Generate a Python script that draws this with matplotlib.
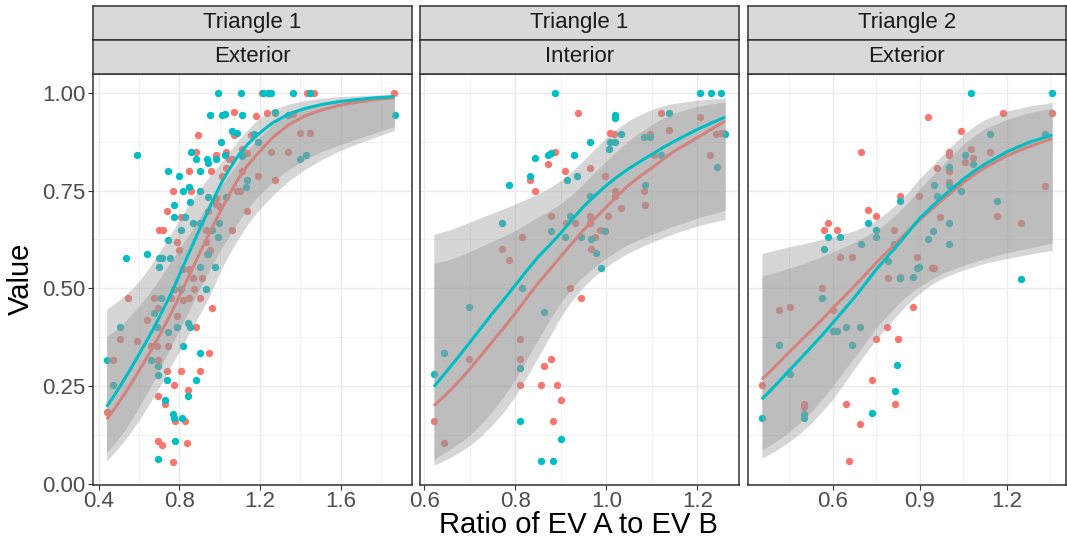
import matplotlib
matplotlib.use("Agg")
import matplotlib.pyplot as plt
from matplotlib.ticker import FixedLocator

plt.rcParams['font.family'] = ['Liberation Sans', 'DejaVu Sans']

TEAL = '#00BFC4'
SALMON = '#F8766D'

strip_top = ['Triangle 1', 'Triangle 1', 'Triangle 2']
strip_bottom = ['Exterior', 'Interior', 'Exterior']

# ---- panel 1: Triangle 1 / Exterior ----
p1_teal_x = [0.994, 1.104, 1.239, 1.257, 1.363, 1.449, 1.217, 0.951, 1.013, 1.029, 1.109, 1.276, 1.337, 1.870,
             1.059, 1.087, 1.168, 1.19, 1.007, 0.857, 1.026, 1.11, 1.40, 1.426, 0.591, 0.885, 0.939, 0.94, 0.98,
             0.743, 0.80, 0.90, 1.135, 1.13, 0.816, 0.846, 0.90, 0.94, 1.03, 0.854, 0.775, 0.775, 0.828, 0.995,
             0.87, 0.90, 0.807, 0.963, 0.99, 0.745, 0.94, 0.64, 0.535, 0.70, 0.715, 0.755, 0.70, 0.904, 0.975,
             0.93, 0.808, 0.71, 0.675, 0.505, 0.69, 0.745, 0.79, 0.845, 0.855, 0.82, 0.904, 0.44, 0.66, 0.695,
             0.695, 0.74, 0.885, 0.47, 0.843, 0.73, 0.77, 0.775, 0.815, 0.778, 0.695]
p1_teal_y = [1.0, 1.0, 1.0, 1.0, 1.0, 1.0, 1.0, 0.943, 0.943, 0.945, 0.943, 0.952, 0.943, 0.943,
             0.901, 0.897, 0.895, 0.873, 0.873, 0.848, 0.842, 0.838, 0.831, 0.840, 0.840, 0.831, 0.831, 0.821, 0.831,
             0.80, 0.787, 0.80, 0.776, 0.760, 0.749, 0.760, 0.749, 0.734, 0.734, 0.721, 0.713, 0.683, 0.683, 0.666,
             0.666, 0.666, 0.649, 0.649, 0.63, 0.624, 0.588, 0.588, 0.578, 0.578, 0.578, 0.578, 0.554, 0.554, 0.554,
             0.499, 0.499, 0.475, 0.437, 0.40, 0.40, 0.389, 0.40, 0.41, 0.40, 0.351, 0.334, 0.317, 0.317, 0.302,
             0.279, 0.265, 0.265, 0.252, 0.224, 0.213, 0.179, 0.169, 0.169, 0.108, 0.062]
p1_salmon_x = [1.211, 1.434, 1.470, 1.867, 1.072, 1.181, 1.235, 1.276, 1.363, 0.895, 1.07, 1.155, 1.40, 1.447,
               0.885, 0.980, 1.03, 1.11, 1.136, 1.255, 1.337, 1.046, 1.06, 0.85, 0.957, 1.014, 1.03, 1.11, 1.19,
               1.276, 0.77, 0.86, 0.98, 1.087, 1.10, 1.135, 0.74, 0.808, 0.983, 0.996, 0.94, 0.70, 0.718, 1.06,
               0.93, 0.79, 0.80, 0.93, 0.953, 0.935, 0.82, 0.85, 0.87, 0.91, 0.875, 0.775, 0.545, 0.675, 0.757,
               0.82, 0.85, 0.904, 0.96, 0.695, 0.79, 0.64, 0.885, 0.505, 0.59, 0.66, 0.69, 0.745, 0.945, 0.47,
               0.695, 0.74, 0.81, 0.904, 0.775, 0.845, 0.695, 0.73, 0.44, 0.778, 0.83, 0.692, 0.712, 0.84, 0.77]
p1_salmon_y = [1.0, 1.0, 1.0, 1.0, 0.952, 0.940, 0.948, 0.948, 0.945, 0.893, 0.893, 0.893, 0.897, 0.897,
               0.848, 0.840, 0.848, 0.855, 0.846, 0.848, 0.848, 0.831, 0.831, 0.80, 0.80, 0.787, 0.808, 0.80, 0.787,
               0.776, 0.749, 0.749, 0.732, 0.749, 0.749, 0.698, 0.698, 0.683, 0.715, 0.711, 0.698, 0.649, 0.649, 0.649,
               0.649, 0.618, 0.598, 0.618, 0.598, 0.588, 0.55, 0.55, 0.525, 0.525, 0.499, 0.499, 0.475, 0.475, 0.475,
               0.471, 0.475, 0.475, 0.45, 0.45, 0.429, 0.42, 0.40, 0.37, 0.364, 0.351, 0.351, 0.351, 0.334, 0.317,
               0.317, 0.288, 0.288, 0.288, 0.252, 0.239, 0.224, 0.203, 0.184, 0.161, 0.161, 0.108, 0.099, 0.103, 0.055]

p1_fit_x = [0.439, 0.48, 0.521, 0.562, 0.603, 0.644, 0.685, 0.726, 0.767, 0.808, 0.849, 0.89, 0.931, 0.972,
            1.013, 1.055, 1.096, 1.137, 1.178, 1.22, 1.26, 1.342, 1.424, 1.506, 1.588, 1.67, 1.77, 1.867]
p1_teal_fit = [0.197, 0.228, 0.262, 0.297, 0.334, 0.371, 0.41, 0.452, 0.495, 0.543, 0.592, 0.639, 0.685, 0.731,
               0.774, 0.81, 0.842, 0.867, 0.888, 0.906, 0.922, 0.946, 0.96, 0.97, 0.977, 0.982, 0.987, 0.99]
p1_teal_lo = [0.08, 0.104, 0.131, 0.163, 0.199, 0.236, 0.275, 0.317, 0.36, 0.402, 0.444, 0.487, 0.529, 0.568,
              0.605, 0.64, 0.673, 0.702, 0.728, 0.75, 0.77, 0.804, 0.829, 0.85, 0.866, 0.88, 0.897, 0.914]
p1_teal_hi = [0.446, 0.461, 0.478, 0.497, 0.52, 0.548, 0.58, 0.613, 0.647, 0.681, 0.715, 0.746, 0.774, 0.8,
              0.825, 0.853, 0.88, 0.905, 0.926, 0.943, 0.956, 0.971, 0.98, 0.986, 0.99, 0.992, 0.994, 0.996]
p1_salmon_fit = [0.165, 0.193, 0.224, 0.257, 0.292, 0.327, 0.364, 0.403, 0.444, 0.488, 0.533, 0.578, 0.622, 0.665,
                 0.706, 0.746, 0.783, 0.813, 0.838, 0.862, 0.884, 0.918, 0.941, 0.956, 0.967, 0.975, 0.982, 0.987]
p1_salmon_lo = [0.059, 0.081, 0.106, 0.134, 0.165, 0.198, 0.233, 0.27, 0.309, 0.347, 0.385, 0.423, 0.461, 0.505,
                0.554, 0.594, 0.63, 0.662, 0.69, 0.714, 0.736, 0.774, 0.804, 0.829, 0.85, 0.867, 0.886, 0.903]
p1_salmon_hi = [0.376, 0.392, 0.41, 0.432, 0.457, 0.483, 0.512, 0.543, 0.575, 0.607, 0.639, 0.672, 0.706, 0.737,
                0.766, 0.796, 0.825, 0.852, 0.876, 0.898, 0.918, 0.948, 0.963, 0.973, 0.98, 0.986, 0.99, 0.993]

# ---- panel 2: Triangle 1 / Interior ----
p2_teal_x = [0.621, 0.643, 0.698, 0.771, 0.786, 0.815, 0.81, 0.81, 0.832, 0.844, 0.862, 0.856, 0.872, 0.879, 0.887,
             0.879, 0.883, 0.901, 0.914, 0.919, 0.91, 0.929, 0.936, 0.945, 0.963, 0.965, 0.967, 0.977, 0.989, 0.998,
             1.005, 1.009, 1.02, 1.018, 1.019, 1.033, 1.082, 1.096, 1.121, 1.137, 1.085, 1.206, 1.229, 1.251, 1.242,
             1.261]
p2_teal_y = [0.28, 0.335, 0.451, 0.667, 0.764, 0.5, 0.297, 0.161, 0.788, 0.832, 0.439, 0.059, 0.841, 0.847, 1.0,
             0.647, 0.059, 0.114, 0.777, 0.684, 0.631, 0.841, 0.786, 0.631, 0.875, 0.736, 0.625, 0.591, 0.551, 0.647,
             0.856, 0.875, 0.875, 0.942, 0.936, 0.894, 0.887, 0.887, 0.841, 0.947, 0.764, 1.0, 1.0, 1.0, 0.811,
             0.894]
p2_salmon_x = [0.621, 0.643, 0.698, 0.771, 0.786, 0.815, 0.81, 0.81, 0.81, 0.832, 0.844, 0.862, 0.856, 0.872, 0.887,
               0.879, 0.879, 0.892, 0.883, 0.901, 0.91, 0.912, 0.919, 0.938, 0.93, 0.945, 0.963, 0.963, 0.965, 0.967,
               0.976, 0.987, 0.998, 1.004, 1.009, 1.016, 1.019, 1.02, 1.033, 1.095, 1.104, 1.12, 1.137, 1.082, 1.085,
               1.205, 1.228, 1.241, 1.252, 1.259]
p2_salmon_y = [0.161, 0.103, 0.318, 0.6, 0.572, 0.631, 0.37, 0.318, 0.252, 0.777, 0.75, 0.302, 0.252, 0.818, 0.849,
               0.684, 0.318, 0.252, 0.161, 0.214, 0.8, 0.667, 0.5, 0.949, 0.667, 0.476, 0.808, 0.684, 0.667, 0.6,
               0.631, 0.65, 0.788, 0.684, 0.898, 0.894, 0.75, 0.736, 0.705, 0.894, 0.841, 0.947, 0.904, 0.75, 0.714,
               0.939, 0.841, 0.894, 0.898, 0.898]

p2_fit_x = [0.621, 0.652, 0.676, 0.699, 0.723, 0.747, 0.774, 0.8, 0.825, 0.85, 0.875, 0.899, 0.924, 0.949,
            0.975, 1.0, 1.024, 1.048, 1.075, 1.101, 1.126, 1.151, 1.201, 1.261]
p2_teal_fit = [0.248, 0.292, 0.326, 0.36, 0.396, 0.432, 0.47, 0.508, 0.545, 0.58, 0.61, 0.64, 0.675, 0.708,
               0.737, 0.763, 0.785, 0.805, 0.825, 0.843, 0.861, 0.877, 0.907, 0.938]
p2_teal_lo = [0.062, 0.085, 0.103, 0.123, 0.15, 0.182, 0.222, 0.268, 0.318, 0.368, 0.418, 0.462, 0.5, 0.53,
              0.556, 0.578, 0.596, 0.612, 0.626, 0.638, 0.65, 0.66, 0.68, 0.699]
p2_teal_hi = [0.638, 0.648, 0.658, 0.669, 0.68, 0.691, 0.703, 0.716, 0.728, 0.742, 0.757, 0.775, 0.798, 0.826,
              0.857, 0.886, 0.908, 0.928, 0.945, 0.958, 0.967, 0.973, 0.981, 0.987]
p2_salmon_fit = [0.199, 0.233, 0.262, 0.292, 0.326, 0.36, 0.398, 0.436, 0.475, 0.513, 0.547, 0.58, 0.614, 0.648,
                 0.679, 0.708, 0.736, 0.763, 0.787, 0.809, 0.831, 0.852, 0.886, 0.928]
p2_salmon_lo = [0.047, 0.064, 0.08, 0.097, 0.12, 0.148, 0.183, 0.225, 0.273, 0.323, 0.375, 0.425, 0.468, 0.503,
                0.532, 0.555, 0.574, 0.59, 0.605, 0.618, 0.63, 0.641, 0.66, 0.676]
p2_salmon_hi = [0.564, 0.572, 0.582, 0.593, 0.606, 0.619, 0.633, 0.648, 0.665, 0.682, 0.698, 0.716, 0.739, 0.767,
                0.797, 0.826, 0.852, 0.877, 0.9, 0.919, 0.936, 0.949, 0.966, 0.977]

# ---- panel 3: Triangle 2 / Exterior ----
p3_teal_x = [0.356, 0.416, 0.454, 0.5, 0.5, 0.563, 0.571, 0.583, 0.6, 0.615, 0.624, 0.647, 0.667, 0.693, 0.699,
             0.721, 0.734, 0.749, 0.749, 0.791, 0.813, 0.816, 0.823, 0.833, 0.833, 0.876, 0.892, 0.899, 0.928, 0.945,
             0.951, 0.961, 1.0, 1.0, 1.0, 1.0, 1.041, 1.055, 1.077, 1.084, 1.143, 1.167, 1.249, 1.333, 1.357]
p3_teal_y = [0.169, 0.354, 0.28, 0.178, 0.169, 0.475, 0.6, 0.631, 0.39, 0.39, 0.631, 0.401, 0.354, 0.401, 0.612,
             0.667, 0.18, 0.65, 0.631, 0.57, 0.612, 0.237, 0.303, 0.722, 0.525, 0.53, 0.551, 0.555, 0.625, 0.647,
             0.764, 0.736, 0.809, 0.764, 0.667, 0.612, 0.75, 0.841, 1.0, 0.818, 0.894, 0.722, 0.524, 0.894, 1.0]
p3_salmon_x = [0.356, 0.416, 0.454, 0.5, 0.5, 0.563, 0.571, 0.583, 0.6, 0.615, 0.624, 0.667, 0.647, 0.657, 0.693,
               0.699, 0.721, 0.734, 0.749, 0.749, 0.786, 0.791, 0.813, 0.816, 0.824, 0.833, 0.833, 0.876, 0.892, 0.899,
               0.928, 0.943, 0.95, 0.961, 0.971, 1.0, 1.0, 1.0, 1.0, 1.041, 1.055, 1.076, 1.084, 1.143, 1.167,
               1.187, 1.249, 1.333, 1.357]
p3_salmon_y = [0.252, 0.445, 0.451, 0.203, 0.195, 0.5, 0.65, 0.667, 0.445, 0.65, 0.579, 0.579, 0.203, 0.059, 0.153,
               0.849, 0.699, 0.265, 0.684, 0.37, 0.401, 0.525, 0.65, 0.203, 0.37, 0.736, 0.53, 0.451, 0.579, 0.736,
               0.939, 0.551, 0.551, 0.808, 0.682, 0.849, 0.841, 0.799, 0.771, 0.903, 0.822, 0.856, 0.832, 0.849, 0.684,
               0.947, 0.667, 0.761, 0.949]

p3_fit_x = [0.356, 0.402, 0.448, 0.489, 0.529, 0.565, 0.6, 0.639, 0.678, 0.714, 0.749, 0.789, 0.828, 0.864,
            0.899, 0.938, 0.977, 1.015, 1.052, 1.089, 1.126, 1.201, 1.276, 1.357]
p3_teal_fit = [0.216, 0.251, 0.288, 0.32, 0.352, 0.381, 0.411, 0.445, 0.479, 0.513, 0.547, 0.581, 0.614, 0.646,
               0.678, 0.706, 0.733, 0.757, 0.78, 0.8, 0.818, 0.849, 0.873, 0.892]
p3_teal_lo = [0.086, 0.107, 0.131, 0.157, 0.186, 0.217, 0.25, 0.288, 0.326, 0.362, 0.398, 0.431, 0.462, 0.485,
              0.504, 0.522, 0.538, 0.549, 0.559, 0.568, 0.576, 0.591, 0.603, 0.616]
p3_teal_hi = [0.589, 0.597, 0.606, 0.612, 0.619, 0.625, 0.631, 0.639, 0.648, 0.659, 0.674, 0.695, 0.72, 0.749,
              0.78, 0.81, 0.839, 0.867, 0.894, 0.915, 0.932, 0.953, 0.966, 0.975]
p3_salmon_fit = [0.267, 0.3, 0.335, 0.365, 0.394, 0.421, 0.449, 0.478, 0.508, 0.536, 0.564, 0.594, 0.623, 0.649,
                 0.674, 0.7, 0.725, 0.749, 0.771, 0.791, 0.809, 0.839, 0.862, 0.883]
p3_salmon_lo = [0.065, 0.084, 0.106, 0.13, 0.157, 0.186, 0.216, 0.256, 0.297, 0.334, 0.369, 0.403, 0.436, 0.463,
                0.487, 0.508, 0.525, 0.537, 0.547, 0.556, 0.564, 0.576, 0.587, 0.597]
p3_salmon_hi = [0.531, 0.541, 0.551, 0.561, 0.572, 0.582, 0.593, 0.605, 0.619, 0.633, 0.648, 0.669, 0.695, 0.723,
                0.754, 0.784, 0.814, 0.843, 0.869, 0.891, 0.909, 0.932, 0.949, 0.96]

panels = [
    (p1_teal_x, p1_teal_y, p1_salmon_x, p1_salmon_y, p1_fit_x,
     p1_teal_fit, p1_teal_lo, p1_teal_hi, p1_salmon_fit, p1_salmon_lo, p1_salmon_hi),
    (p2_teal_x, p2_teal_y, p2_salmon_x, p2_salmon_y, p2_fit_x,
     p2_teal_fit, p2_teal_lo, p2_teal_hi, p2_salmon_fit, p2_salmon_lo, p2_salmon_hi),
    (p3_teal_x, p3_teal_y, p3_salmon_x, p3_salmon_y, p3_fit_x,
     p3_teal_fit, p3_teal_lo, p3_teal_hi, p3_salmon_fit, p3_salmon_lo, p3_salmon_hi),
]

xlims = [(0.370, 1.953), (0.5905, 1.292), (0.307, 1.4045)]
xmajor = [[0.4, 0.8, 1.2, 1.6], [0.6, 0.8, 1.0, 1.2], [0.6, 0.9, 1.2]]
xminor = [[0.6, 1.0, 1.4, 1.8], [0.7, 0.9, 1.1], [0.45, 0.75, 1.05, 1.35]]
xlabels = [['0.4', '0.8', '1.2', '1.6'], ['0.6', '0.8', '1.0', '1.2'], ['0.6', '0.9', '1.2']]

# pixel boxes (left, right) of the panels
W, H = 1067, 542
panel_lr = [(92.7, 411.7), (420.0, 739.3), (747.7, 1066.0)]
top_px, bot_px = 74.0, 484.5

fig = plt.figure(figsize=(W / 100, H / 100), dpi=100)

for i, (l, r) in enumerate(panel_lr):
    tx, ty, sx, sy, fx, tfit, tlo, thi, sfit, slo, shi = panels[i]
    ax = fig.add_axes([l / W, 1 - bot_px / H, (r - l) / W, (bot_px - top_px) / H])
    ax.set_facecolor('white')
    ax.set_xlim(*xlims[i])
    ax.set_ylim(-0.002, 1.048)
    ax.xaxis.set_major_locator(FixedLocator(xmajor[i]))
    ax.xaxis.set_minor_locator(FixedLocator(xminor[i]))
    ax.set_xticklabels(xlabels[i])
    ax.yaxis.set_major_locator(FixedLocator([0, 0.25, 0.5, 0.75, 1.0]))
    ax.yaxis.set_minor_locator(FixedLocator([0.125, 0.375, 0.625, 0.875]))
    ax.grid(which='major', color='#EBEBEB', lw=1.0, zorder=0)
    ax.grid(which='minor', color='#EBEBEB', lw=0.5, zorder=0)
    ax.set_axisbelow(True)
    ax.tick_params(which='minor', length=0)
    ax.tick_params(which='major', length=3.5, width=0.8, color='#333333',
                   labelcolor='#4D4D4D', labelsize=16, pad=1.5)
    if i == 0:
        ax.set_yticklabels(['0.00', '0.25', '0.50', '0.75', '1.00'])
    else:
        ax.tick_params(axis='y', left=False, labelleft=False)
    for sp in ax.spines.values():
        sp.set_color('#333333')
        sp.set_linewidth(1.1)
        sp.set_zorder(10)

    ax.scatter(sx, sy, s=28, color=SALMON, lw=0, zorder=2)
    ax.scatter(tx, ty, s=28, color=TEAL, lw=0, zorder=2)
    # salmon group smooth first, teal on top (ggplot group order)
    ax.fill_between(fx, slo, shi, color='#999999', alpha=0.4, lw=0, zorder=3)
    ax.plot(fx, sfit, color=SALMON, lw=2.2, zorder=3, solid_capstyle='butt')
    ax.fill_between(fx, tlo, thi, color='#999999', alpha=0.4, lw=0, zorder=4)
    ax.plot(fx, tfit, color=TEAL, lw=2.2, zorder=4, solid_capstyle='butt')

    # two facet strips
    for t0, t1, label in [(5.7, 40.0, strip_top[i]), (40.0, 74.0, strip_bottom[i])]:
        sax = fig.add_axes([l / W, 1 - t1 / H, (r - l) / W, (t1 - t0) / H])
        sax.set_facecolor('#D9D9D9')
        sax.set_xticks([])
        sax.set_yticks([])
        for sp in sax.spines.values():
            sp.set_color('#333333')
            sp.set_linewidth(1.1)
        sax.text(0.5, 0.5, label, ha='center', va='center', fontsize=16,
                 color='#1A1A1A', transform=sax.transAxes)

fig.text(21 / W, 1 - 279 / H, 'Value', rotation=90, ha='center', va='center', fontsize=21, color='black')
fig.text(578 / W, 1 - 525 / H, 'Ratio of EV A to EV B', ha='center', va='center', fontsize=21, color='black')

fig.savefig('out.png', dpi=100)
